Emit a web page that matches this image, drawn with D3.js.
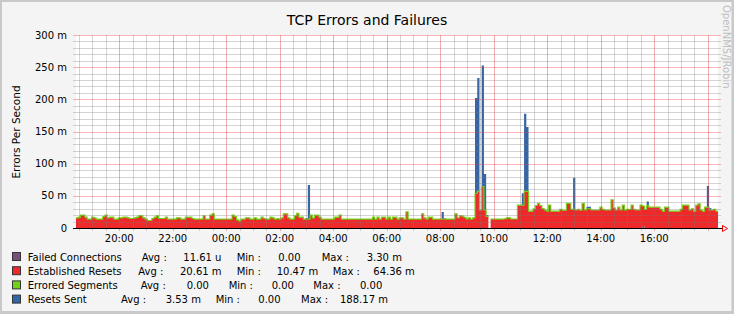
<!DOCTYPE html>
<html>
<head>
<meta charset="utf-8">
<script src="https://cdn.jsdelivr.net/npm/d3@7"></script>
<style>
  body { margin: 0; background: #fff; }
  svg { display: block; font-family: "DejaVu Sans", sans-serif; }
</style>
</head>
<body>
<svg id="chart" width="734" height="314"></svg>
<script>
// 5 minute steps, 24 hours starting 18:23 -> 288 values per series (values in milli)
const failedConnections = [
  0,0,0,0,0,0,0,0,0,0,0,0,0,0,0,0,0,0,0,0,0,0,0,0,
  0,0,0,0,0,0,0,0,0,0,0,0,0,0,0,0,0,0,0,0,0,0,0,0,
  0,0,0,0,0,0,0,0,0,0,0,0,0,0,0,0,0,0,0,0,0,0,0,0,
  0,0,0,0,0,0,0,0,0,0,0,0,0,0,0,0,0,0,0,0,0,0,0,0,
  0,0,0,0,0,0,0,0,0,0,0,0,0,0,0,0,0,0,0,0,0,0,0,0,
  0,0,0,0,0,0,0,0,0,0,0,0,0,0,0,0,0,0,0,0,0,0,0,0,
  0,0,0,0,0,0,0,0,0,0,0,0,0,0,0,0,0,0,0,0,0,0,0,0,
  0,0,0,0,0,0,0,0,0,0,0,0,0,0,0,0,0,0,0,0,0,0,0,0,
  0,0,0,0,0,0,0,0,0,0,0,0,0,0,0,0,0,0,0,0,0,0,0,0,
  0,0,0,0,0,0,0,0,0,0,0,0,0,0,0,0,0,0,0,0,0,0,0,0,
  0,0,0,0,0,0,0,0,0,0,0,0,0,0,3.3,0,0,0,0,0,0,0,0,0,
  0,0,0,0,0,0,0,0,0,0,0,0,0,0,0,0,0,0,0,0,0,0,0,0
];
const establishedResets = [
  15.8,16.9,20,20,16.9,13.8,13.8,16.9,15.8,13.8,13.8,13.8,
  17.9,20,15.8,16.9,16.9,13.8,13.8,15.8,15.8,16.9,16.9,15.8,
  14.8,14.8,15.8,16.9,19,19,15.8,13.8,11.7,11.7,14.8,16.9,
  19,14.8,14.8,14.8,16.9,13.8,13.8,13.8,13.8,15.8,15.8,13.8,
  13.8,16.9,16.9,16.9,14.8,13.8,13.8,13.8,13.8,19,13.8,13.8,
  20,22,13.8,13.8,13.8,13.8,13.8,13.8,13.8,13.8,20,17.9,
  12.7,11,13.8,13.8,15.8,15.8,13.8,13.8,15.8,13.8,13.8,16.9,
  14.8,13.8,13.8,16.9,15.8,13.8,14.8,13.8,15.8,22,22,15.8,
  13.8,13.8,19,23,16.9,16.9,13.8,13.8,13.8,20,15.8,20,
  20,16.9,13.8,13.8,13.8,13.8,13.8,13.8,16.9,16.9,20,13.8,
  13.8,13.8,13.8,13.8,13.8,13.8,13.8,13.8,13.8,13.8,13.8,13.8,
  13.8,16.9,13.8,16.9,13.8,16.9,16.9,13.8,16.9,13.8,16.9,16.9,
  13.8,15.8,15.8,13.8,25.2,13.8,13.8,13.8,13.8,13.8,13.8,22,
  15.8,13.8,16.9,16.9,13.8,13.8,13.8,13.8,13.8,13.8,13.8,13.8,
  13.8,13.8,22,16,19,18.5,16.5,14,15.8,13.8,15.8,54,
  57,28,64.4,28,17.9,null,13.8,13.8,13.8,13.8,13.8,13.8,
  14.3,15.8,15.8,14,14,14,35.5,35.5,35.5,57,57,26.2,
  26.2,29.7,35,38.3,35,30.3,28,26.2,35.5,26.2,26.2,26.2,
  26.2,29.2,27.5,27.5,38.3,38.3,29.2,29,28,29.2,27.5,38.3,
  28,30,30,28,28,28,28,32.4,29.2,28,28,28,
  43.8,31,28,32.4,28,35.5,28,29.2,29.2,35.5,29.2,28,
  28,35.5,31,29.2,35,32.4,32.4,32.4,32.4,32.4,29.2,26.2,
  32.4,32.4,26.2,26.2,26.2,26.2,26.2,29.2,35.5,35.5,35.5,28,
  30,26.2,35.5,37.6,28,26.2,32.4,32.4,28,28,29.2,26.2
];
const erroredSegments = [
  0,0,0,0,0,0,0,0,0,0,0,0,0,0,0,0,0,0,0,0,0,0,0,0,
  0,0,0,0,0,0,0,0,0,0,0,0,0,0,0,0,0,0,0,0,0,0,0,0,
  0,0,0,0,0,0,0,0,0,0,0,0,0,0,0,0,0,0,0,0,0,0,0,0,
  0,0,0,0,0,0,0,0,0,0,0,0,0,0,0,0,0,0,0,0,0,0,0,0,
  0,0,0,0,0,0,0,0,0,0,0,0,0,0,0,0,0,0,0,0,0,0,0,0,
  0,0,0,0,0,0,0,0,0,0,0,0,0,0,0,0,0,0,0,0,0,0,0,0,
  0,0,0,0,0,0,0,0,0,0,0,0,0,0,0,0,0,0,0,0,0,0,0,0,
  0,0,0,0,0,0,0,0,0,0,0,0,0,0,0,0,0,0,0,0,0,0,0,0,
  0,0,0,0,0,0,0,0,0,0,0,0,0,0,0,0,0,0,0,0,0,0,0,0,
  0,0,0,0,0,0,0,0,0,0,0,0,0,0,0,0,0,0,0,0,0,0,0,0,
  0,0,0,0,0,0,0,0,0,0,0,0,0,0,0,0,0,0,0,0,0,0,0,0,
  0,0,0,0,0,0,0,0,0,0,0,0,0,0,0,0,0,0,0,0,0,0,0,0
];
const resetsSent = [
  0,0,0,0,0,0,0,0,0,0,0,0,0,0,0,0,0,0,0,0,0,0,0,0,
  0,0,0,0,0,0,0,0,0,0,0,0,0,0,0,0,0,0,0,0,0,0,0,0,
  0,0,0,0,0,0,0,0,0,0,0,0,0,0,0,0,0,0,0,0,0,0,0,0,
  0,0,0,0,0,0,0,0,0,0,0,0,0,0,0,0,0,0,0,0,0,0,0,0,
  0,0,0,0,0,0,0,1.6,53,0,0,0,0,0,0,0,0,0,0,0,0,0,0,0,
  0,0,0,0,0,0,0,0,0,0,0,0,0,0,0,0,0,0,0,0,0,0,0,0,
  0,0,0,0,0,0,0,0,0,0,0,0,0,0,0,0,0,0,0,0,11,1.5,0,0,
  0,0,0,0,0,0,0,0,0,0,0,148,176,0,188.2,56,2.5,0,0,0,0,0,0,0,
  0,0,0,0,0,0,0,0,18.5,120.5,100,0,0,0,0,0,0,0,0,0,0,0,0,0,
  0,0,0,0,0,0,0,49,0,0,0,0,0,3,3,0,0,0,0,0,0,0,0,0,
  0,0,0,0,0,0,0,0,0,0,0,0,0,0,0,0,6,0,0,0,0,0,0,0,
  0,0,0,0,0,0,0,0,0,0,0,0,0,0,0,0,0,0,0,33,3,0,0,0
];

const xTickLabels = ["20:00","22:00","00:00","02:00","04:00","06:00","08:00","10:00","12:00","14:00","16:00"];
const yTickValues = [0, 50, 100, 150, 200, 250, 300];
const yTickLabels = ["0","50 m","100 m","150 m","200 m","250 m","300 m"];

const legendNames = ["Failed Connections","Established Resets","Errored Segments","Resets Sent"];
const legendAvg = ["11.61 u","20.61 m","0.00","3.53 m"];
const legendMin = ["0.00","10.47 m","0.00","0.00"];
const legendMax = ["3.30 m","64.36 m","0.00","188.17 m"];

// tango colours, as used by OpenNMS graphs
const colors = ["#75507b", "#ef2929", "#73d216", "#3465a4"];

const startTime = new Date(2013, 5, 10, 18, 23);
const endTime = d3.timeHour.offset(startTime, 24);
const stepMin = 5;

const svg = d3.select("#chart");

// frame + background
svg.append("rect").attr("width", 734).attr("height", 314).attr("fill", "#c9c9c9");
svg.append("rect").attr("x", 2).attr("y", 2).attr("width", 729.5).attr("height", 309)
  .attr("fill", "#f4f4f4");

const x = d3.scaleTime().domain([startTime, endTime]).range([76, 718]);
const y = d3.scaleLinear().domain([0, 300]).range([228, 35]);

svg.append("rect").attr("x", 76).attr("y", 35).attr("width", 642).attr("height", 193)
  .attr("fill", "#fff");

// build step points (two corners per step)
let pts = [];
establishedResets.forEach(function(v, i){
  let t0 = d3.timeMinute.offset(startTime, i*stepMin);
  let t1 = d3.timeMinute.offset(startTime, (i+1)*stepMin);
  let ok = v != null;
  let f = failedConnections[i];
  let r = ok ? f + v : 0;
  let g = r + erroredSegments[i];
  let b = g + resetsSent[i];
  [t0, t1].forEach(function(t){
    pts.push({t: t, ok: ok, z: 0, f: f, r: r, g: g, b: b});
  });
});

function band(lo, hi){
  return d3.area().defined(d => d.ok)
    .x(d => x(d.t)).y0(d => y(d[lo])).y1(d => y(d[hi]));
}
svg.append("path").attr("d", band("z", "f")(pts)).attr("fill", colors[0]);
svg.append("path").attr("d", band("f", "r")(pts)).attr("fill", colors[1]);
svg.append("path").attr("d", band("g", "b")(pts)).attr("fill", colors[3]);
svg.append("path")
  .attr("d", d3.line().defined(d => d.ok).x(d => x(d.t)).y(d => y(d.g))(pts))
  .attr("fill", "none").attr("stroke", colors[2]).attr("stroke-width", 1.1)
  .attr("stroke-linejoin", "miter");

// grid, drawn over the data like rrd does
const grid = svg.append("g").attr("shape-rendering", "crispEdges");
const minorX = d3.timeMinute.every(30).range(startTime, endTime).filter(t => t.getMinutes() != 0 || t.getHours() % 2 != 0);
const majorX = d3.timeHour.every(2).range(startTime, endTime);
const minorY = d3.range(10, 301, 10).filter(v => v % 50 != 0);

grid.selectAll(".mx").data(minorX).enter().append("line")
  .attr("x1", d => Math.round(x(d)) + 0.5).attr("x2", d => Math.round(x(d)) + 0.5)
  .attr("y1", 35).attr("y2", 231)
  .attr("stroke", "rgba(120,120,120,0.32)");
grid.selectAll(".my").data(minorY).enter().append("line")
  .attr("x1", 73).attr("x2", 721)
  .attr("y1", d => Math.round(y(d)) + 0.5).attr("y2", d => Math.round(y(d)) + 0.5)
  .attr("stroke", "rgba(120,120,120,0.32)");
grid.selectAll(".Mx").data(majorX).enter().append("line")
  .attr("x1", d => Math.round(x(d)) + 0.5).attr("x2", d => Math.round(x(d)) + 0.5)
  .attr("y1", 35).attr("y2", 231)
  .attr("stroke", "rgba(225,60,70,0.42)");
grid.selectAll(".My").data(yTickValues.filter(v => v > 0)).enter().append("line")
  .attr("x1", 73).attr("x2", 721)
  .attr("y1", d => Math.round(y(d)) + 0.5).attr("y2", d => Math.round(y(d)) + 0.5)
  .attr("stroke", "rgba(240,60,60,0.38)");

// x axis line with arrow
svg.append("line").attr("x1", 73).attr("x2", 722).attr("y1", 228.5).attr("y2", 228.5)
  .attr("stroke", "#000").attr("shape-rendering", "crispEdges");
svg.append("path").attr("d", "M722.5,225.5L727.5,228.5L722.5,231.5Z")
  .attr("fill", "none").attr("stroke", "#ff0000");

// y labels
svg.selectAll(".yl").data(yTickValues).enter().append("text")
  .attr("x", 67).attr("y", d => y(d) + 3.5)
  .attr("text-anchor", "end").attr("font-size", 10).attr("fill", "#000")
  .text((d, i) => yTickLabels[i]);

// x labels
svg.selectAll(".xl").data(majorX.slice(0, xTickLabels.length)).enter().append("text")
  .attr("x", d => x(d)).attr("y", 241.5)
  .attr("text-anchor", "middle").attr("font-size", 10).attr("fill", "#000")
  .text((d, i) => xTickLabels[i]);

// title, axis title, watermark
svg.append("text").attr("x", 367).attr("y", 25).attr("text-anchor", "middle")
  .attr("font-size", 14).attr("fill", "#000").text("TCP Errors and Failures");
svg.append("text").attr("transform", "translate(20,132) rotate(-90)")
  .attr("text-anchor", "middle").attr("font-size", 10.5).attr("fill", "#000")
  .text("Errors Per Second");
svg.append("text").attr("transform", "translate(723,5) rotate(90)")
  .attr("font-size", 10).attr("fill", "#bdbdbd").text("OpenNMS/JRobin");

// legend
const legendCols = [
  [141.7, 183.3, 236.7, 278.3, 321.7, 366.7],
  [138.3, 180, 236.7, 276.7, 332.7, 373.3],
  [140.7, 186.7, 228.7, 271.7, 313.3, 360],
  [121, 165.7, 215.7, 258.3, 301, 340]
];
legendNames.forEach(function(name, i){
  let yy = 260.5 + i*14.2;
  let row = svg.append("g").attr("font-size", 10).attr("fill", "#000");
  row.append("rect").attr("x", 12.5).attr("y", yy - 8).attr("width", 8).attr("height", 8)
    .attr("fill", colors[i]).attr("stroke", "#333");
  row.append("text").attr("x", 27.7).attr("y", yy).text(name);
  let pieces = ["Avg :", legendAvg[i], "Min :", legendMin[i], "Max :", legendMax[i]];
  pieces.forEach(function(p, j){
    row.append("text").attr("x", legendCols[i][j]).attr("y", yy).text(p);
  });
});
</script>
</body>
</html>
